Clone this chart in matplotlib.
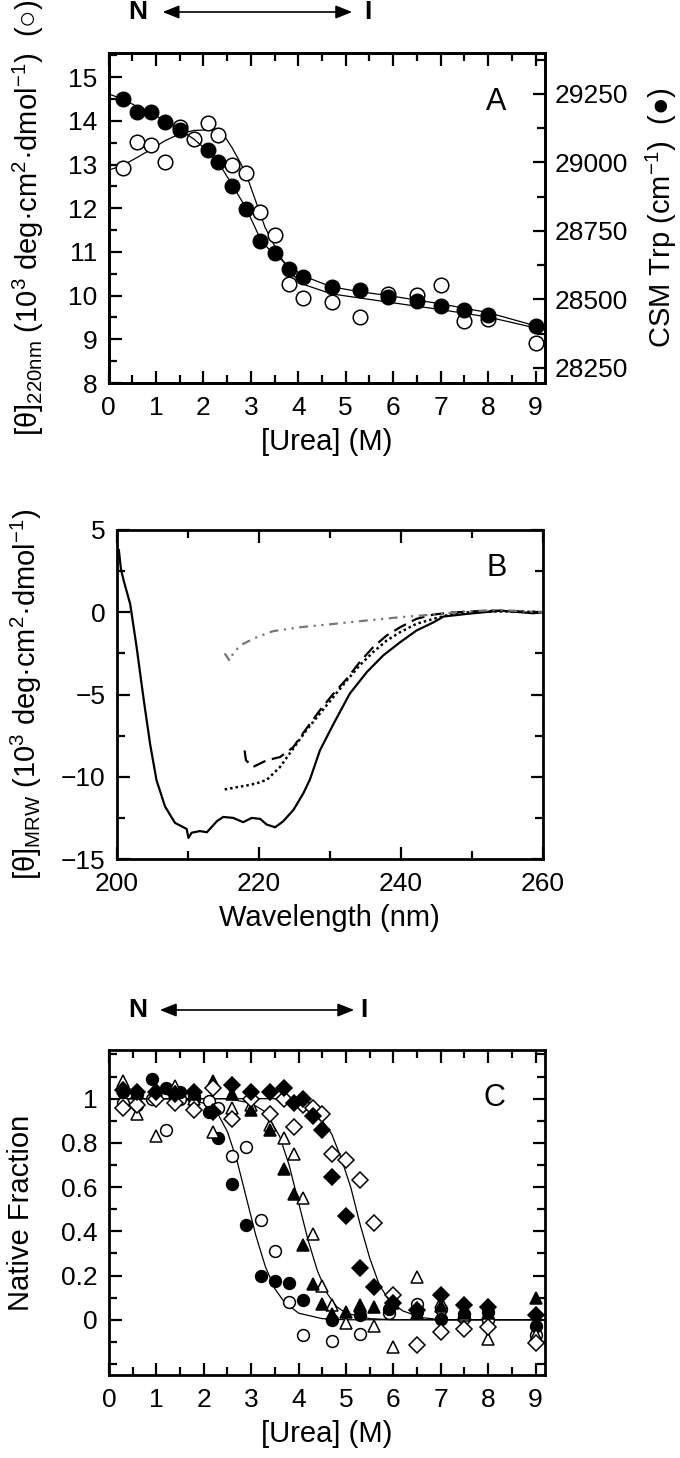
import numpy as np
import matplotlib
matplotlib.use("Agg")
import matplotlib.pyplot as plt
from matplotlib.ticker import MultipleLocator

plt.rcParams['font.family'] = ['Liberation Sans', 'DejaVu Sans']
plt.rcParams['mathtext.fontset'] = 'custom'
plt.rcParams['mathtext.rm'] = 'Liberation Sans'
plt.rcParams['mathtext.it'] = 'Liberation Sans:italic'
plt.rcParams['axes.linewidth'] = 2.0

# ---- panel A: CD at 220 nm (open) and Trp CSM (filled) vs urea
urea_theta = [0.3, 0.6, 0.9, 1.2, 1.5, 1.8, 2.1, 2.3, 2.6, 2.9, 3.2, 3.5, 3.8, 4.1,
              4.7, 5.3, 5.9, 6.5, 7.0, 7.5, 8.0, 9.0]
theta220 = [12.91, 13.52, 13.45, 13.06, 13.85, 13.58, 13.95, 13.68, 13.0, 12.80, 11.92,
            11.39, 10.27, 9.95, 9.86, 9.52, 10.04, 10.02, 10.25, 9.41, 9.46, 8.92]
urea_csm = [0.3, 0.6, 0.9, 1.2, 1.5, 2.1, 2.3, 2.6, 2.9, 3.2, 3.5, 3.8, 4.1,
            4.7, 5.3, 5.9, 6.5, 7.0, 7.5, 8.0, 9.0]
csm = [29231, 29185, 29183, 29147, 29120, 29046, 29000, 28914, 28830, 28713, 28670,
       28610, 28581, 28544, 28535, 28508, 28493, 28476, 28463, 28445, 28402]

fit_theta_x = [0, 0.3, 0.6, 0.9, 1.2, 1.5, 1.8, 2.1, 2.3, 2.45, 2.6, 2.75, 2.9, 3.1,
               3.3, 3.5, 3.8, 4.1, 4.7, 5.9, 7.0, 8.0, 9.2]
fit_theta_y = [12.87, 12.98, 13.16, 13.35, 13.55, 13.70, 13.78, 13.79, 13.76, 13.64,
               13.39, 13.1, 12.78, 12.17, 11.56, 11.14, 10.56, 10.26, 10.04, 9.85,
               9.68, 9.51, 9.21]
fit_csm_x = [0, 0.3, 0.6, 0.9, 1.2, 1.5, 1.8, 2.1, 2.4, 2.6, 2.9, 3.05, 3.2, 3.35,
             3.5, 3.8, 4.1, 4.7, 5.3, 5.9, 7.0, 8.0, 9.2]
fit_csm_y = [29250, 29231, 29204, 29179, 29152, 29120, 29085, 29040, 28976, 28920,
             28833, 28777, 28721, 28689, 28665, 28622, 28586, 28546, 28528, 28514,
             28484, 28452, 28394]

# ---- panel B: far-UV CD spectra
wl_0 = [200.0, 200.3, 200.6, 201.0, 201.9, 202.8, 203.75, 204.7, 205.6, 206.8,
        208.2, 209.85, 210.1, 210.55, 211.7, 212.7, 214.1, 215.0, 216.4, 217.8,
        219.0, 220.2, 221.1, 222.3, 223.45, 224.9, 226.3, 227.2, 228.6, 230.5,
        232.8, 235.2, 237.5, 239.9, 242.2, 244.6, 246.0, 249.3, 254.0, 258.6, 260.0]
cd_0 = [3.2, 3.8, 2.6, 1.9, 0.5, -2.1, -5.15, -8.0, -10.2, -11.8,
        -12.8, -13.17, -13.72, -13.4, -13.3, -13.37, -12.7, -12.44, -12.5, -12.76,
        -12.5, -12.56, -12.9, -13.07, -12.7, -12.0, -10.98, -10.16, -8.4, -6.8,
        -4.95, -3.64, -2.63, -1.82, -1.11, -0.61, -0.26, -0.1, 0.1, -0.06, 0.0]
wl_dash = [218.0, 218.2, 219.2, 221.1, 223.0, 224.85, 226.7, 228.6, 230.5, 232.4,
           234.2, 236.1, 238.0, 239.9, 242.2, 244.6, 247.0, 250.0, 253.0, 256.0, 260.0]
cd_dash = [-8.4, -9.0, -9.4, -9.0, -8.8, -8.2, -7.07, -5.96, -4.95, -4.04,
           -3.03, -2.12, -1.41, -0.91, -0.4, -0.14, -0.02, 0.05, 0.1, 0.05, 0.0]
wl_dot = [215.2, 217.35, 218.3, 219.7, 220.6, 221.1, 223.0, 224.85, 226.7, 228.6,
          230.5, 232.4, 234.2, 236.1, 238.0, 239.9, 242.2, 244.6, 246.9, 249.3,
          253.0, 256.0, 260.0]
cd_dot = [-10.77, -10.6, -10.53, -10.4, -10.26, -10.2, -9.4, -8.28, -7.17, -6.16,
          -5.15, -4.14, -3.23, -2.42, -1.72, -1.21, -0.7, -0.4, -0.14, 0.0,
          0.05, 0.05, 0.0]
wl_dd = [215.2, 215.9, 216.5, 217.8, 219.7, 222.0, 225.8, 230.5, 235.2, 239.9,
         244.6, 249.3, 254.0, 259.6, 260.0]
cd_dd = [-2.5, -2.95, -2.4, -1.92, -1.52, -1.15, -0.91, -0.71, -0.5, -0.3,
         -0.14, 0.06, 0.14, 0.0, 0.0]

# ---- panel C: native fraction
urea_c1 = [0.3, 0.6, 0.9, 1.2, 1.5, 1.8, 2.1, 2.3, 2.6, 2.9, 3.2, 3.5, 3.8, 4.1,
           4.7, 5.3, 5.9, 6.5, 7.0, 7.5, 8.0, 9.0]
fc_y = [1.03, 1.02, 1.09, 1.05, 1.03, 1.01, 0.94, 0.82, 0.615, 0.43, 0.196, 0.175,
        0.166, 0.09, 0.0, 0.02, 0.05, 0.035, 0.005, 0.027, 0.035, -0.026]
oc_y = [0.98, 0.97, 1.0, 0.86, 1.0, 1.0, 0.99, 0.96, 0.74, 0.78, 0.45, 0.31, 0.08,
        -0.068, -0.094, -0.063, 0.03, 0.07, 0.05, 0.01, 0.0, -0.07]
urea_c2 = [0.3, 0.6, 1.0, 1.4, 1.8, 2.2, 2.6, 3.0, 3.4, 3.7, 3.9, 4.1, 4.3, 4.5,
           4.7, 5.0, 5.3, 5.6, 6.0, 6.5, 7.0, 7.5, 8.0, 9.0]
ft_y = [1.05, 1.03, 1.04, 1.03, 1.02, 1.08, 1.02, 0.95, 0.86, 0.68, 0.57, 0.34, 0.16,
        0.072, 0.024, 0.035, 0.065, 0.057, 0.075, 0.03, 0.062, 0.03, 0.03, 0.10]
ot_y = [1.08, 0.93, 0.83, 1.056, 1.0, 0.85, 0.96, 0.97, 0.88, 0.82, 0.75, 0.55, 0.386,
        0.155, 0.068, -0.014, 0.062, -0.026, -0.124, 0.193, 0.08, 0.02, -0.086, -0.07]
fd_y = [1.04, 1.03, 1.03, 1.02, 1.03, 0.94, 1.06, 1.03, 1.03, 1.05, 0.98, 1.0, 0.92,
        0.86, 0.645, 0.468, 0.234, 0.15, 0.077, 0.042, 0.11, 0.065, 0.057, 0.02]
od_y = [0.96, 0.97, 1.0, 0.98, 0.95, 1.05, 0.91, 1.0, 0.93, 1.0, 0.87, 0.97, 0.96,
        0.93, 0.75, 0.724, 0.63, 0.437, 0.11, -0.116, -0.056, -0.04, -0.033, -0.105]

fit1_x = [0, 1.5, 2.0, 2.3, 2.5, 2.7, 2.9, 3.1, 3.3, 3.5, 3.7, 4.0, 4.5, 5.0, 9.2]
fit1_y = [1.0, 1.0, 0.98, 0.93, 0.85, 0.72, 0.55, 0.38, 0.24, 0.14, 0.08, 0.03, 0.005, 0.0, 0.0]
fit2_x = [0, 2.5, 3.0, 3.3, 3.6, 3.8, 4.0, 4.2, 4.4, 4.6, 4.8, 5.0, 5.5, 6.0, 9.2]
fit2_y = [1.0, 1.0, 0.98, 0.94, 0.83, 0.7, 0.53, 0.36, 0.22, 0.12, 0.06, 0.03, 0.005, 0.0, 0.0]
fit3_x = [0, 3.5, 4.0, 4.4, 4.7, 4.9, 5.1, 5.3, 5.5, 5.7, 5.9, 6.2, 6.6, 7.0, 9.2]
fit3_y = [1.0, 1.0, 0.98, 0.93, 0.84, 0.73, 0.6, 0.43, 0.28, 0.16, 0.09, 0.04, 0.01, 0.0, 0.0]

TICK_FS = 19
LAB_FS = 21


def style_ticks(ax, right=True):
    ax.tick_params(which='both', direction='in', top=True, right=right,
                   labelsize=TICK_FS, width=1.6)
    ax.tick_params(axis='x', which='both', pad=9)
    ax.tick_params(axis='y', which='both', pad=8)
    ax.tick_params(which='major', length=9)
    ax.tick_params(which='minor', length=5.5)


fig = plt.figure(figsize=(6.8, 14.58), dpi=100)

# ---------------- A
axA = fig.add_axes([0.1596, 0.7373, 0.6419, 0.2263])
axA.plot(fit_theta_x, fit_theta_y, color='black', lw=0.9)
axA.plot(urea_theta, theta220, 'o', ms=10.5, mfc='white', mec='black', mew=1.1)
axA.set_xlim(0, 9.2)
axA.set_ylim(8, 15.55)
axA.xaxis.set_major_locator(MultipleLocator(1))
axA.xaxis.set_minor_locator(MultipleLocator(0.5))
axA.yaxis.set_major_locator(MultipleLocator(1))
axA.yaxis.set_minor_locator(MultipleLocator(0.5))
style_ticks(axA, right=False)
axA.set_xlabel('[Urea] (M)', fontsize=LAB_FS, labelpad=6)
axA.set_ylabel('[θ]$_{\\mathregular{220nm}}$ (10$^{\\mathregular{3}}$ deg·cm$^{\\mathregular{2}}$·dmol$^{\\mathregular{-1}}$)  (○)',
               fontsize=LAB_FS, labelpad=16)
axA.text(0.889, 0.852, 'A', transform=axA.transAxes, fontsize=22, ha='center', va='center')

axA2 = axA.twinx()
axA2.plot(fit_csm_x, fit_csm_y, color='black', lw=0.9)
axA2.plot(urea_csm, csm, 'o', ms=10.5, mfc='black', mec='black')
axA2.set_ylim(28195, 29399)
axA2.yaxis.set_major_locator(MultipleLocator(250))
axA2.yaxis.set_minor_locator(MultipleLocator(125))
axA2.tick_params(which='both', direction='in', labelsize=TICK_FS, width=1.6, pad=7)
axA2.tick_params(which='major', length=9)
axA2.tick_params(which='minor', length=5.5)
axA2.set_ylabel('CSM Trp (cm$^{\\mathregular{-1}}$)  (●)', fontsize=LAB_FS, labelpad=11)
for s in axA2.spines.values():
    s.set_linewidth(2.0)

# ---------------- B
axB = fig.add_axes([0.1716, 0.4108, 0.6269, 0.2257])
axB.plot(wl_0, cd_0, color='black', lw=1.6)
axB.plot(wl_dash, cd_dash, color='black', lw=1.6, dashes=(6, 3))
axB.plot(wl_dot, cd_dot, color='black', lw=1.8, dashes=(1, 1.2))
axB.plot(wl_dd, cd_dd, color='#777777', lw=1.6, dashes=(4, 2.5, 1, 2.5, 1, 2.5))
axB.set_xlim(200, 260)
axB.set_ylim(-15, 5)
axB.xaxis.set_major_locator(MultipleLocator(20))
axB.xaxis.set_minor_locator(MultipleLocator(10))
axB.yaxis.set_major_locator(MultipleLocator(5))
axB.yaxis.set_minor_locator(MultipleLocator(2.5))
style_ticks(axB)
axB.set_xlabel('Wavelength (nm)', fontsize=LAB_FS, labelpad=6)
axB.set_ylabel('[θ]$_{\\mathregular{MRW}}$ (10$^{\\mathregular{3}}$ deg·cm$^{\\mathregular{2}}$·dmol$^{\\mathregular{-1}}$)',
               fontsize=LAB_FS, labelpad=12)
axB.text(0.891, 0.884, 'B', transform=axB.transAxes, fontsize=22, ha='center', va='center')

# ---------------- C
axC = fig.add_axes([0.1603, 0.0569, 0.6412, 0.2229])
for fx, fy in [(fit1_x, fit1_y), (fit2_x, fit2_y), (fit3_x, fit3_y)]:
    axC.plot(fx, fy, color='black', lw=0.9)
mk = dict(mec='black', mew=1.1, ls='none')
axC.plot(urea_c1, oc_y, 'o', ms=8.5, mfc='white', **mk)
axC.plot(urea_c1, fc_y, 'o', ms=8.5, mfc='black', **mk)
axC.plot(urea_c2, ot_y, '^', ms=9, mfc='white', **mk)
axC.plot(urea_c2, ft_y, '^', ms=9, mfc='black', **mk)
axC.plot(urea_c2, od_y, 'D', ms=8, mfc='white', **mk)
axC.plot(urea_c2, fd_y, 'D', ms=8, mfc='black', **mk)
axC.set_xlim(0, 9.2)
axC.set_ylim(-0.25, 1.22)
axC.xaxis.set_major_locator(MultipleLocator(1))
axC.xaxis.set_minor_locator(MultipleLocator(0.5))
axC.set_yticks([0, 0.2, 0.4, 0.6, 0.8, 1.0])
axC.set_yticklabels(['0', '0.2', '0.4', '0.6', '0.8', '1'])
axC.yaxis.set_minor_locator(MultipleLocator(0.1))
style_ticks(axC)
axC.set_xlabel('[Urea] (M)', fontsize=LAB_FS, labelpad=6)
axC.set_ylabel('Native Fraction', fontsize=LAB_FS, labelpad=19)
axC.text(0.885, 0.852, 'C', transform=axC.transAxes, fontsize=22, ha='center', va='center')

# N <-> I arrows
for ytop, xl, xr, xi in [(1 - 12 / 1458, 0.235, 0.522, 0.541), (1 - 1010 / 1458, 0.231, 0.525, 0.535)]:
    fig.text(0.203, ytop, 'N', fontsize=19, fontweight='bold', ha='center', va='center')
    fig.text(xi, ytop, 'I', fontsize=19, fontweight='bold', ha='center', va='center')
    fig.add_artist(matplotlib.patches.FancyArrowPatch(
        (xl, ytop), (xr, ytop), transform=fig.transFigure,
        arrowstyle='<|-|>,head_length=10,head_width=4', color='black', lw=1.2))

fig.savefig('out.png', dpi=100)
